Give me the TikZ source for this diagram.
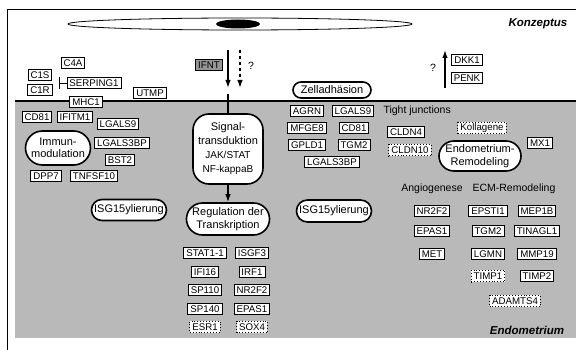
\documentclass[tikz,border=0pt]{standalone}
\usepackage{fontspec}
\setmainfont{Liberation Sans}
\usetikzlibrary{shapes.misc,arrows.meta}
\definecolor{endogrey}{RGB}{185,185,185}
\definecolor{ifntgrey}{RGB}{150,150,150}
\begin{document}
\begin{tikzpicture}[x=1pt,y=-1pt,
  gene/.style={draw, fill=white, line width=0.9pt, inner xsep=2.5pt, inner ysep=0pt,
    minimum height=11.5pt, font=\fontsize{9.7}{10}\selectfont},
  dgene/.style={gene, dotted, line width=1.1pt},
  oval/.style={draw, fill=white, line width=1.6pt, rounded rectangle, inner sep=1pt,
    font=\fontsize{11}{12.5}\selectfont, align=center},
  lab/.style={font=\fontsize{10.5}{11}\selectfont},
  ttl/.style={font=\fontsize{11.5}{12}\selectfont\bfseries\itshape},
  arr/.style={line width=1.3pt, -{Latex[length=8pt,width=5.5pt]}},
  frame/.style={line width=0.8pt}]
\useasboundingbox (0,0) rectangle (576,350);
% frame
\draw[frame] (7,350) -- (7,9) -- (576,9);
% endometrium region
\fill[endogrey] (15,101) rectangle (576,338);
\draw[line width=1.7pt] (15,101) -- (576,101);
% conceptus
\draw[line width=0.8pt, fill=white] (240,24) ellipse [x radius=172, y radius=6];
\fill[black] (238,24) ellipse [x radius=22, y radius=4.5];
\node[ttl] (konz) at (538,24) {Konzeptus};
\node[ttl] (endom) at (527,330) {Endometrium};

% top left group
\node[gene] (c4a) at (73,63) {C4A};
\node[gene] (c1s) at (40,75) {C1S};
\node[gene] (c1r) at (40,90) {C1R};
\node[gene] (serp) at (94,83) {SERPING1};
\coordinate (inh) at (59,83);
\draw[line width=0.8pt, {Bar[width=12pt]}-] (inh) -- (serp.west);
\node[gene] (utmp) at (150,93) {UTMP};
\node[gene] (mhc1) at (86,102) {MHC1};

% IFNT and arrows
\node[gene, fill=ifntgrey] (ifnt) at (209,65) {IFNT};
\coordinate (a1s) at (228,50); \coordinate (a1e) at (228,88);
\draw[arr] (a1s) -- (a1e);
\coordinate (a2s) at (240,50); \coordinate (a2e) at (240,88);
\draw[arr, dashed] (a2s) -- (a2e);
\node[lab] (q1) at (251,66) {?};
\coordinate (a3s) at (445,88); \coordinate (a3e) at (445,50);
\draw[arr] (a3s) -- (a3e);
\node[lab] (q2) at (433,68) {?};
\node[gene] (dkk1) at (467,60) {DKK1};
\node[gene] (penk) at (467,78) {PENK};

% Zelladhaesion
\node[oval, minimum width=80pt, minimum height=16pt] (zell) at (332,90) {Zelladhäsion};

% immunomodulation group
\node[gene] (cd81a) at (37,117) {CD81};
\node[gene] (ifitm) at (75,117) {IFITM1};
\node[gene] (lgals9a) at (118,124) {LGALS9};
\node[oval, minimum width=67pt, minimum height=34pt] (immun) at (58,148) {Immun-\\modulation};
\node[gene] (lgals3a) at (122,143) {LGALS3BP};
\node[gene] (bst2) at (120,160) {BST2};
\node[gene] (dpp7) at (46,176) {DPP7};
\node[gene] (tnf) at (94,176) {TNFSF10};
\node[oval, minimum width=77pt, minimum height=21pt] (isg1) at (129,210) {ISG15ylierung};

% signal transduction
\coordinate (sigtop) at (228,94);
\node[draw, fill=white, line width=1.6pt, rounded corners=16pt, minimum width=70pt,
  minimum height=70pt, inner sep=1pt, align=center,
  font=\fontsize{11}{14}\selectfont] (sig) at (228,149)
  {Signal-\\transduktion\\{\fontsize{10}{14}\selectfont JAK/STAT}\\{\fontsize{10}{14}\selectfont NF-kappaB}};
\draw[line width=1.3pt] (sigtop) -- (sig.north);
\node[oval, minimum width=82pt, minimum height=32pt] (reg) at (228,219) {Regulation der\\Transkription};
\draw[arr] (sig.south) -- (reg.north);

\node[gene] (stat) at (205,253) {STAT1-1};
\node[gene] (isgf3) at (252,253) {ISGF3};
\node[gene] (ifi16) at (205,272) {IFI16};
\node[gene] (irf1) at (252,272) {IRF1};
\node[gene] (sp110) at (205,290) {SP110};
\node[gene] (nr2f2a) at (252,290) {NR2F2};
\node[gene] (sp140) at (205,309) {SP140};
\node[gene] (epas1a) at (252,309) {EPAS1};
\node[dgene] (esr1) at (205,327) {ESR1};
\node[dgene] (sox4) at (252,327) {SOX4};

% adhesion group
\node[gene] (agrn) at (307,111) {AGRN};
\node[gene] (lgals9b) at (353,111) {LGALS9};
\node[gene] (mfge8) at (307,128) {MFGE8};
\node[gene] (cd81b) at (354,128) {CD81};
\node[gene] (gpld1) at (307,145) {GPLD1};
\node[gene] (tgm2a) at (354,145) {TGM2};
\node[gene] (lgals3b) at (332,162) {LGALS3BP};
\node[oval, minimum width=77pt, minimum height=22pt] (isg2) at (334,211) {ISG15ylierung};

% remodeling group
\node[lab, anchor=west] (tight) at (380,111) {Tight junctions};
\node[gene] (cldn4) at (406,132) {CLDN4};
\node[dgene] (koll) at (482,128) {Kollagene};
\node[dgene] (cldn10) at (410,150) {CLDN10};
\node[oval, minimum width=84pt, minimum height=30pt] (remod) at (480,156) {Endometrium-\\Remodeling};
\node[gene] (mx1) at (540,143) {MX1};
\node[lab] (angio) at (432,189) {Angiogenese};
\node[lab] (ecm) at (514,189) {ECM-Remodeling};

\node[gene] (nr2f2b) at (432,211) {NR2F2};
\node[gene] (epsti) at (488,211) {EPSTI1};
\node[gene] (mep1b) at (537,211) {MEP1B};
\node[gene] (epas1b) at (432,231) {EPAS1};
\node[gene] (tgm2b) at (488,231) {TGM2};
\node[gene] (tinagl) at (537,231) {TINAGL1};
\node[gene] (met) at (432,254) {MET};
\node[gene] (lgmn) at (488,254) {LGMN};
\node[gene] (mmp19) at (537,254) {MMP19};
\node[dgene] (timp1) at (488,276) {TIMP1};
\node[gene] (timp2) at (537,276) {TIMP2};
\node[dgene] (adamts) at (515,301) {ADAMTS4};
\end{tikzpicture}
\end{document}
